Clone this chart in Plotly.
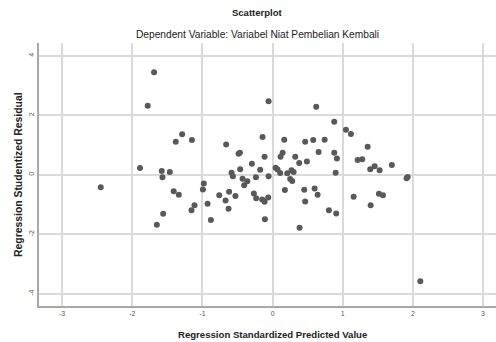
import plotly.graph_objects as go

# Regression standardized predicted value (x) and studentized residual (y)
pred = [-1.69, -1.78, -1.29, -1.38, -1.89, -1.58, -1.465, -1.57, -1.15, -0.057,
        0.622, 0.879, -0.662, -0.143, -0.466, -0.485, 0.166, 0.465, 0.579, 0.742,
        0.143, 0.114, -0.114, 0.656, 0.879, 0.917, 0.323, 0.38, 0.489, -0.295,
        -0.462, -0.177, 0.043, 0.071, 0.108, -0.585, -0.566, -0.428, -0.238, -0.057,
        0.209, 0.27, 0.30, 0.899, 1.046, 1.117, 1.355, 1.213, 1.278, 1.392,
        1.455, 1.526, 1.70, 1.926, 1.91, 1.155, 1.398, 1.516, 1.573, 0.803,
        0.907, 2.106, -2.45, -1.41, -1.337, -1.56, -1.65, -1.113, -1.156, -0.927,
        -0.88, -0.98, -0.994, -0.76, -0.67, -0.628, -0.62, -0.53, -0.405, -0.36,
        -0.267, -0.234, -0.148, -0.114, -0.063, -0.11, 0.251, 0.28, 0.175, 0.451,
        0.465, 0.599, 0.642, 0.385]
resid = [3.45, 2.32, 1.36, 1.11, 0.225, 0.13, 0.09, -0.08, 1.17, 2.47,
         2.29, 1.78, 1.02, 1.27, 0.74, 0.71, 1.18, 1.11, 1.17, 1.18,
         0.74, 0.605, 0.605, 0.77, 0.74, 0.55, 0.605, 0.40, 0.45, 0.37,
         0.19, 0.17, 0.235, 0.18, 0.057, 0.07, -0.05, -0.13, -0.08, -0.05,
         0.05, 0.15, 0.09, 0.07, 1.51, 1.37, 0.94, 0.50, 0.52, 0.19,
         0.29, 0.15, 0.33, -0.07, -0.12, -0.74, -1.02, -0.64, -0.69, -1.19,
         -1.30, -3.58, -0.42, -0.55, -0.67, -1.31, -1.68, -1.02, -1.19, -0.97,
         -1.52, -0.29, -0.49, -0.69, -0.86, -1.14, -0.57, -0.71, -0.35, -0.22,
         -0.63, -0.79, -0.83, -0.91, -0.76, -1.49, -0.145, -0.21, -0.51, -0.50,
         -0.90, -0.46, -0.67, -1.78]

x_ticks = [-3, -2, -1, 0, 1, 2, 3]
y_ticks = [-4, -2, 0, 2, 4]

FONT = "Liberation Sans, Arial, sans-serif"
W, H = 496, 342
L, R, T, B = 39, 0, 43, 36
pw, ph = W - L - R, H - T - B

def px(xp):
    return (xp - L) / pw

def py(yp):
    return (H - B - yp) / ph

fig = go.Figure()
fig.add_trace(go.Scatter(
    x=pred, y=resid, mode="markers",
    marker=dict(size=6, color="#595959", line=dict(width=0)),
    hoverinfo="x+y", showlegend=False,
))

axis_common = dict(
    showgrid=True, gridcolor="#dadada", gridwidth=2,
    zeroline=False, showline=True, linecolor="#a8a8a8", linewidth=2,
    ticks="", automargin=False,
    tickfont=dict(family=FONT, size=7, color="#555"),
)
fig.update_xaxes(range=[-3.33, 3.185], tickvals=x_ticks,
                 ticktext=[str(v) for v in x_ticks], **axis_common)
fig.update_yaxes(range=[-4.41, 4.43], tickvals=y_ticks, tickangle=-90,
                 ticktext=[str(v) for v in y_ticks], **axis_common)

annotations = [
    dict(text="<b>Scatterplot</b>", x=px(257), y=py(13), size=9.5),
    dict(text="Dependent Variable: Variabel Niat Pembelian Kembali", x=px(257), y=py(34.5), size=10.2),
    dict(text="<b>Regression Standardized Predicted Value</b>", x=px(272.5), y=py(334.5), size=9.6),
]
ann = []
for a in annotations:
    ann.append(dict(text=a["text"], x=a["x"], y=a["y"], xref="paper", yref="paper",
                    xanchor="center", yanchor="middle", showarrow=False,
                    font=dict(family=FONT, size=a["size"], color="#222")))
ann.append(dict(text="<b>Regression Studentized Residual</b>", x=px(18), y=py(175),
                xref="paper", yref="paper", xanchor="center", yanchor="middle",
                showarrow=False, textangle=-90,
                font=dict(family=FONT, size=10.4, color="#222")))

fig.update_layout(
    width=W, height=H,
    margin=dict(l=L, r=R, t=T, b=B, pad=0),
    paper_bgcolor="white", plot_bgcolor="white",
    annotations=ann,
)

fig.write_html("out.html", config={"displayModeBar": False},
               post_script="document.body.style.margin='0';document.body.style.padding='0';")
